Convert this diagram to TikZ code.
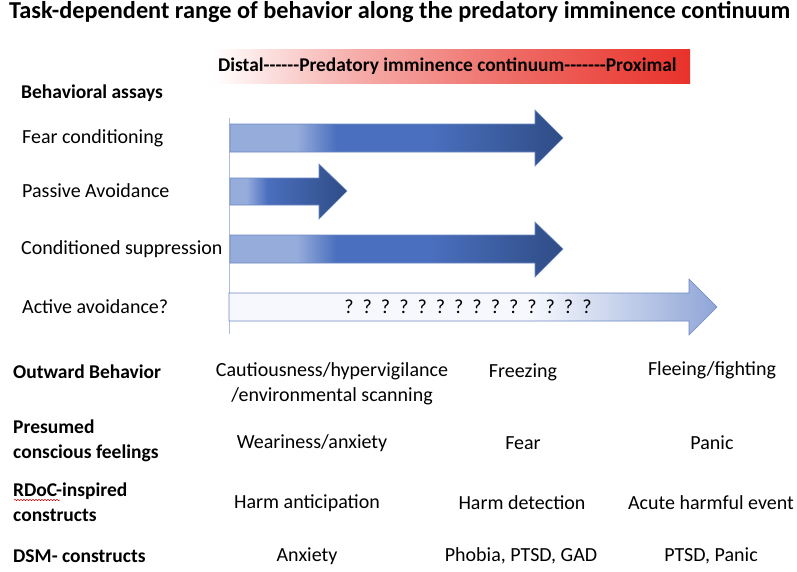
\documentclass[tikz,border=0pt]{standalone}
\usepackage{fontspec}
\setmainfont{Carlito}
\usepackage{tikz}
\usetikzlibrary{positioning,decorations.pathmorphing}
\definecolor{piRed}{HTML}{E8322A}
\definecolor{piLight}{HTML}{96ACDB}
\definecolor{piMid}{HTML}{4A6FBE}
\definecolor{piDark}{HTML}{2F4C85}
\definecolor{piEdge}{HTML}{6E89C4}
\definecolor{piPale}{HTML}{F6F8FD}
\definecolor{piSoft}{HTML}{90A6D7}
\definecolor{piAxis}{HTML}{AEBCDD}
% shadings: 25bp..75bp is the box of the path
\pgfdeclarehorizontalshading{piBar}{100bp}{color(0bp)=(white); color(25bp)=(white); color(40bp)=(piRed!40); color(58bp)=(piRed!75); color(75bp)=(piRed); color(100bp)=(piRed)}
\pgfdeclarehorizontalshading{piLong}{100bp}{color(0bp)=(piLight); color(35bp)=(piLight); color(41bp)=(piMid); color(55bp)=(piMid); color(75bp)=(piDark); color(100bp)=(piDark)}
\pgfdeclarehorizontalshading{piShort}{100bp}{color(0bp)=(piLight); color(32bp)=(piLight); color(41bp)=(piMid); color(75bp)=(piDark); color(100bp)=(piDark)}
\pgfdeclarehorizontalshading{piOpen}{100bp}{color(0bp)=(piPale); color(56bp)=(piPale); color(75bp)=(piSoft); color(100bp)=(piSoft)}
\tikzset{
  hdr/.style={font=\fontsize{19.5}{24.5}\selectfont\bfseries, align=left, anchor=west, inner sep=0pt},
  lbl/.style={font=\fontsize{20}{24.5}\selectfont, anchor=west, inner sep=0pt},
  val/.style={font=\fontsize{20}{24.5}\selectfont, align=center, inner sep=0pt},
  arrbody/.style={draw=piEdge, line width=0.6pt},
  spell/.style={draw=red!80!black, line width=0.5pt, decorate, decoration={snake, amplitude=0.7pt, segment length=3pt}}
}
\begin{document}
\begin{tikzpicture}[x=1pt,y=-1pt]
  \useasboundingbox[fill=white] (0,0) rectangle (797,571);
  \node[hdr, font=\fontsize{24.3}{28}\selectfont\bfseries] (title) at (9,12) {Task-dependent range of behavior along the predatory imminence continuum};
  % continuum bar
  \shade[shading=piBar] (213,49) rectangle (690,83);
  \node[hdr, font=\fontsize{19.4}{24}\selectfont\bfseries] (cont) at (218,66) {Distal-{}-{}-{}-{}-{}-Predatory imminence continuum-{}-{}-{}-{}-{}-{}-Proximal};
  \node[hdr] (assays) at (21,93) {Behavioral assays};
  % assays
  \node[lbl] (fc) at (22,138) {Fear conditioning};
  \node[lbl] (pa) at (22,191) {Passive Avoidance};
  \node[lbl] (cs) at (21,249) {Conditioned suppression};
  \node[lbl] (aa) at (22,307) {Active avoidance?};
  \draw[piAxis, line width=0.8pt] (229,118) -- (229,334);
  \shadedraw[shading=piLong, arrbody] (230,124) -- (535,124) -- (535,110) -- (563,138) -- (535,166) -- (535,152) -- (230,152) -- cycle;
  \shadedraw[shading=piShort, arrbody] (230,178) -- (319,178) -- (319,164) -- (347,191) -- (319,219) -- (319,205) -- (230,205) -- cycle;
  \shadedraw[shading=piLong, arrbody] (230,235) -- (535,235) -- (535,222) -- (563,249) -- (535,277) -- (535,263) -- (230,263) -- cycle;
  \shadedraw[shading=piOpen, arrbody] (229,293) -- (689,293) -- (689,279) -- (717,307) -- (689,335) -- (689,321) -- (229,321) -- cycle;
  \node[val] (qm) at (468,307) {?~~?~~?~~?~~?~~?~~?~~?~~?~~?~~?~~?~~?~~?};
  % rows
  \node[hdr] (ob) at (13,372) {Outward Behavior};
  \node[val] (ob1) at (332,384) {Cautiousness/hypervigilance\\/environmental scanning};
  \node[val] (ob2) at (523,372) {Freezing};
  \node[val] (ob3) at (712,370) {Fleeing/fighting};
  \node[hdr] (cf) at (13,441) {Presumed\\conscious feelings};
  \node[val] (cf1) at (312,443) {Weariness/anxiety};
  \node[val] (cf2) at (523,443) {Fear};
  \node[val] (cf3) at (712,443) {Panic};
  \node[hdr] (rd) at (13,502) {RDoC-inspired\\constructs};
  \draw[spell] (14,500) -- (60,500);
  \node[val] (rd1) at (307,503) {Harm anticipation};
  \node[val] (rd2) at (522,503) {Harm detection};
  \node[val] (rd3) at (711,503) {Acute harmful event};
  \node[hdr] (dsm) at (13,556) {DSM- constructs};
  \node[val] (dsm1) at (307,556) {Anxiety};
  \node[val] (dsm2) at (521,556) {Phobia, PTSD, GAD};
  \node[val] (dsm3) at (711,556) {PTSD, Panic};
\end{tikzpicture}
\end{document}
